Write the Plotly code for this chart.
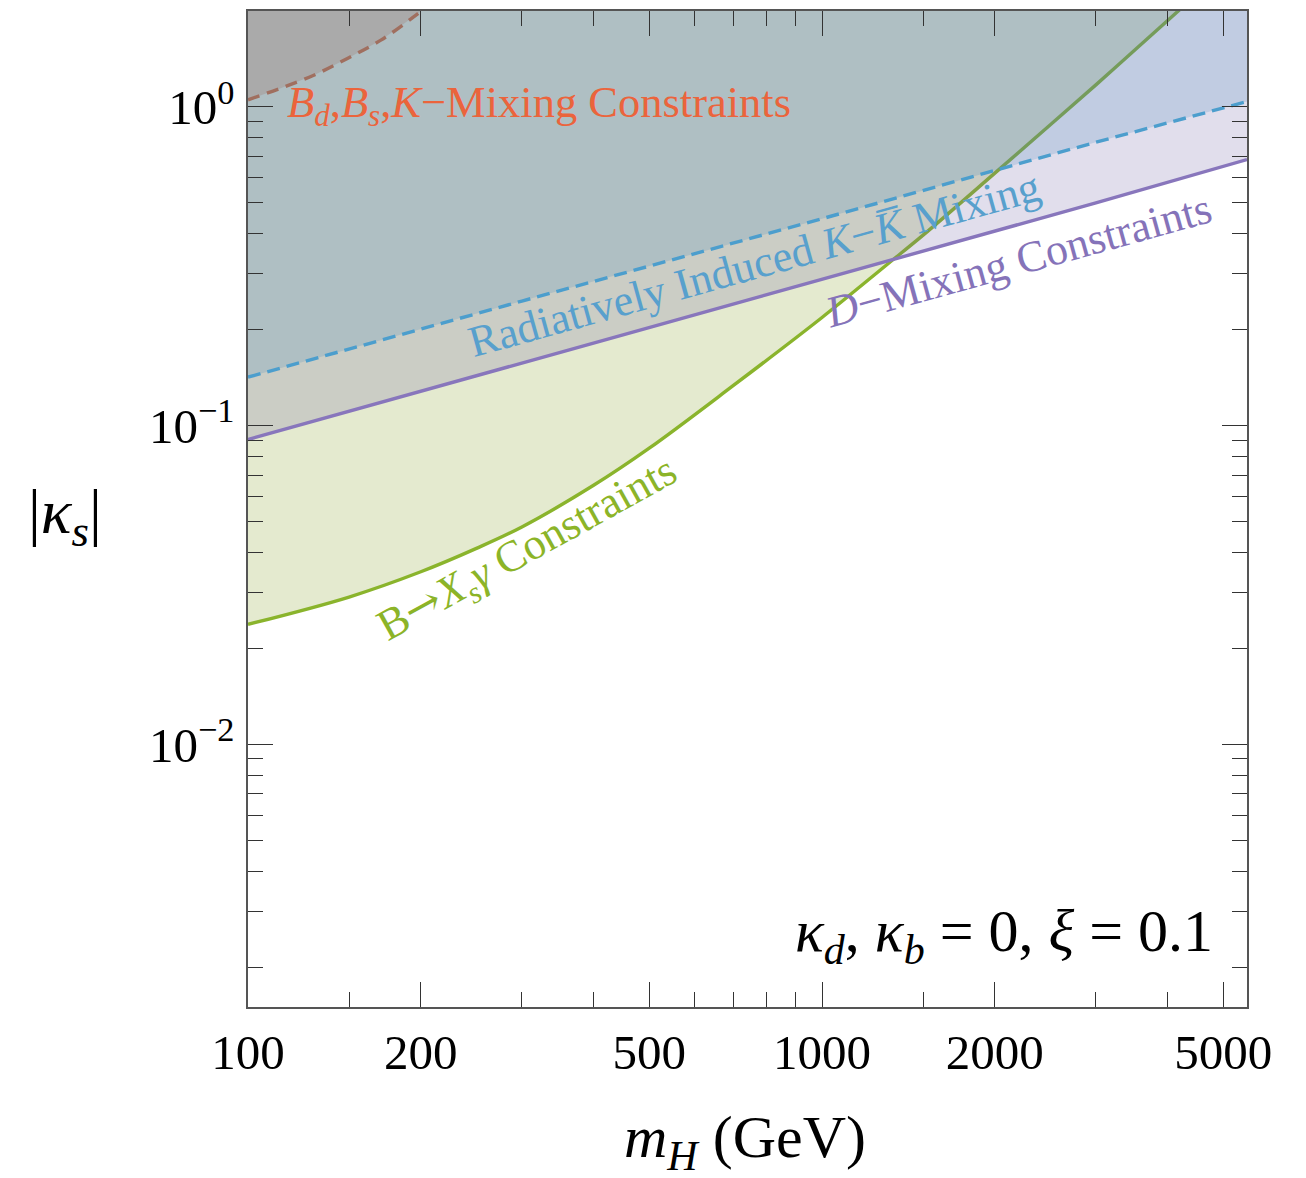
import math
import plotly.graph_objects as go

# ---------------- data ----------------
# B_d, B_s, K mixing constraint (dashed, orange)
m_bd = [100, 114, 130.5, 149, 170.4, 197.5, 220]
k_bd = [1.053, 1.145, 1.26, 1.42, 1.62, 1.96, 2.3]

# B -> X_s gamma constraint (solid, green)
m_bsg = [100, 150, 200, 250, 300, 400, 500, 700, 1000, 1300, 1500, 2000, 3000, 4200, 5000]
k_bsg = [0.0238, 0.0290, 0.0348, 0.0412, 0.0481, 0.0650, 0.0850, 0.1335, 0.2185, 0.321,
         0.396, 0.620, 1.173, 2.02, 2.67]

# D mixing constraint (solid, purple)
m_dmix = [100, 300, 1000, 3000, 5500]
k_dmix = [0.0905, 0.157, 0.288, 0.50, 0.684]

# radiatively induced K-Kbar mixing (dashed, blue)
m_kk = [100, 300, 1000, 3000, 5500]
k_kk = [0.142, 0.246, 0.446, 0.775, 1.04]

x_range = [100, 5500]
y_range = [0.0015, 2.0]
y_fill_top = 10.0

x_major = [100, 200, 500, 1000, 2000, 5000]
x_major_text = ["100", "200", "500", "1000", "2000", "5000"]
x_minor = [150, 300, 400, 600, 700, 800, 900, 1500, 3000, 4000]

y_major = [0.01, 0.1, 1]
y_major_text = ["10<sup>−2</sup>", "10<sup>−1</sup>", "10<sup>0</sup>"]
y_minor = [0.002, 0.003, 0.004, 0.005, 0.006, 0.007, 0.008, 0.009,
           0.02, 0.03, 0.04, 0.05, 0.06, 0.07, 0.08, 0.09,
           0.2, 0.3, 0.4, 0.5, 0.6, 0.7, 0.8, 0.9, 2]

# ---------------- styles ----------------
layers = [
    # (x, y, fill rgba, line colour, dash, shape)
    (m_bd, k_bd, "rgba(219,95,59,0.25)", "#E2643C", "12px,8px", "spline"),
    (m_bsg, k_bsg, "rgba(120,150,15,0.2)", "#8AB42C", "solid", "spline"),
    (m_dmix, k_dmix, "rgba(105,90,160,0.2)", "#8876BC", "solid", "linear"),
    (m_kk, k_kk, "rgba(65,137,191,0.2)", "#4C9ECD", "13px,7px", "linear"),
]

fig = go.Figure()
for xs, ys, fc, lc, dash, shape in layers:
    fx = list(xs) + [xs[-1], xs[0]]
    fy = list(ys) + [y_fill_top, y_fill_top]
    fig.add_trace(go.Scatter(x=fx, y=fy, mode="lines", fill="toself", fillcolor=fc,
                             line=dict(width=0, color=fc), hoverinfo="skip"))
    fig.add_trace(go.Scatter(x=xs, y=ys, mode="lines",
                             line=dict(color=lc, width=3.4, dash=dash, shape=shape)))

FONT = "Liberation Serif"

fig.update_layout(
    width=1306, height=1178,
    margin=dict(l=248, r=59, t=9, b=171),
    plot_bgcolor="white", paper_bgcolor="white",
    showlegend=False,
    font=dict(family=FONT, color="black"),
)

axis_common = dict(
    type="log", showgrid=False, zeroline=False,
    showline=True, linecolor="#555555", linewidth=1.5, mirror="ticks",
    ticks="inside", ticklen=25, tickwidth=1.4, tickcolor="#333333",
    tickfont=dict(family=FONT, size=49, color="black"),
)

fig.update_xaxes(
    range=[math.log10(x_range[0]), math.log10(x_range[1])],
    tickmode="array", tickvals=x_major, ticktext=x_major_text,
    minor=dict(tickmode="array", tickvals=x_minor, ticks="inside", ticklen=15,
               tickwidth=1.2, tickcolor="#333333", showgrid=False),
    ticklabelstandoff=1,
    **axis_common,
)
fig.update_yaxes(
    range=[math.log10(y_range[0]), math.log10(y_range[1])],
    tickmode="array", tickvals=y_major, ticktext=y_major_text,
    minor=dict(tickmode="array", tickvals=y_minor, ticks="inside", ticklen=15,
               tickwidth=1.2, tickcolor="#333333", showgrid=False),
    ticklabelstandoff=2,
    **axis_common,
)

def px_to_paper(px, py):
    return (px - 248) / 999.0, (1007 - py) / 998.0

annotations = []
# B_d,B_s,K label
x, y = px_to_paper(285, 103)
annotations.append(dict(
    text="<i>B</i><sub><i>d</i></sub>,<i>B</i><sub><i>s</i></sub>,<i>K</i>−Mixing Constraints",
    x=x, y=y, xref="paper", yref="paper", xanchor="left", yanchor="middle",
    showarrow=False, font=dict(family=FONT, size=44.5, color="#EB643C")))
# K-Kbar label
x, y = px_to_paper(754, 263)
annotations.append(dict(
    text="Radiatively Induced <i>K</i>−<i>K̅</i> Mixing",
    x=x, y=y, xref="paper", yref="paper", xanchor="center", yanchor="middle",
    textangle=-15.5, showarrow=False, font=dict(family=FONT, size=44, color="#58A0CD")))
# D mixing label
x, y = px_to_paper(1018, 259)
annotations.append(dict(
    text="<i>D</i>−Mixing Constraints",
    x=x, y=y, xref="paper", yref="paper", xanchor="center", yanchor="middle",
    textangle=-15.5, showarrow=False, font=dict(family=FONT, size=44, color="#8573B9")))
# B -> Xs gamma label
x, y = px_to_paper(528, 549)
annotations.append(dict(
    text="B<span style=\"font-family:'DejaVu Serif'\">→</span><i>X</i><sub><i>s</i></sub><i>γ</i> Constraints",
    x=x, y=y, xref="paper", yref="paper", xanchor="center", yanchor="middle",
    textangle=-29, showarrow=False, font=dict(family=FONT, size=44, color="#8CB428")))
# parameter note
x, y = px_to_paper(1215, 935)
annotations.append(dict(
    text="<i>κ</i><sub><i>d</i></sub>, <i>κ</i><sub><i>b</i></sub> = 0, <i>ξ</i> = 0.1",
    x=x, y=y, xref="paper", yref="paper", xanchor="right", yanchor="middle",
    showarrow=False, font=dict(family=FONT, size=60, color="black")))
# y-axis label (horizontal)
x, y = px_to_paper(65, 515)
annotations.append(dict(
    text="|<i>κ</i><sub><i>s</i></sub>|",
    x=x, y=y, xref="paper", yref="paper", xanchor="center", yanchor="middle",
    showarrow=False, font=dict(family=FONT, size=64, color="black")))
# x-axis label
x, y = px_to_paper(745, 1142)
annotations.append(dict(
    text="<i>m</i><sub><i>H</i></sub> (GeV)",
    x=x, y=y, xref="paper", yref="paper", xanchor="center", yanchor="middle",
    showarrow=False, font=dict(family=FONT, size=60, color="black")))

fig.update_layout(annotations=annotations)

fig.write_html("out.html")
